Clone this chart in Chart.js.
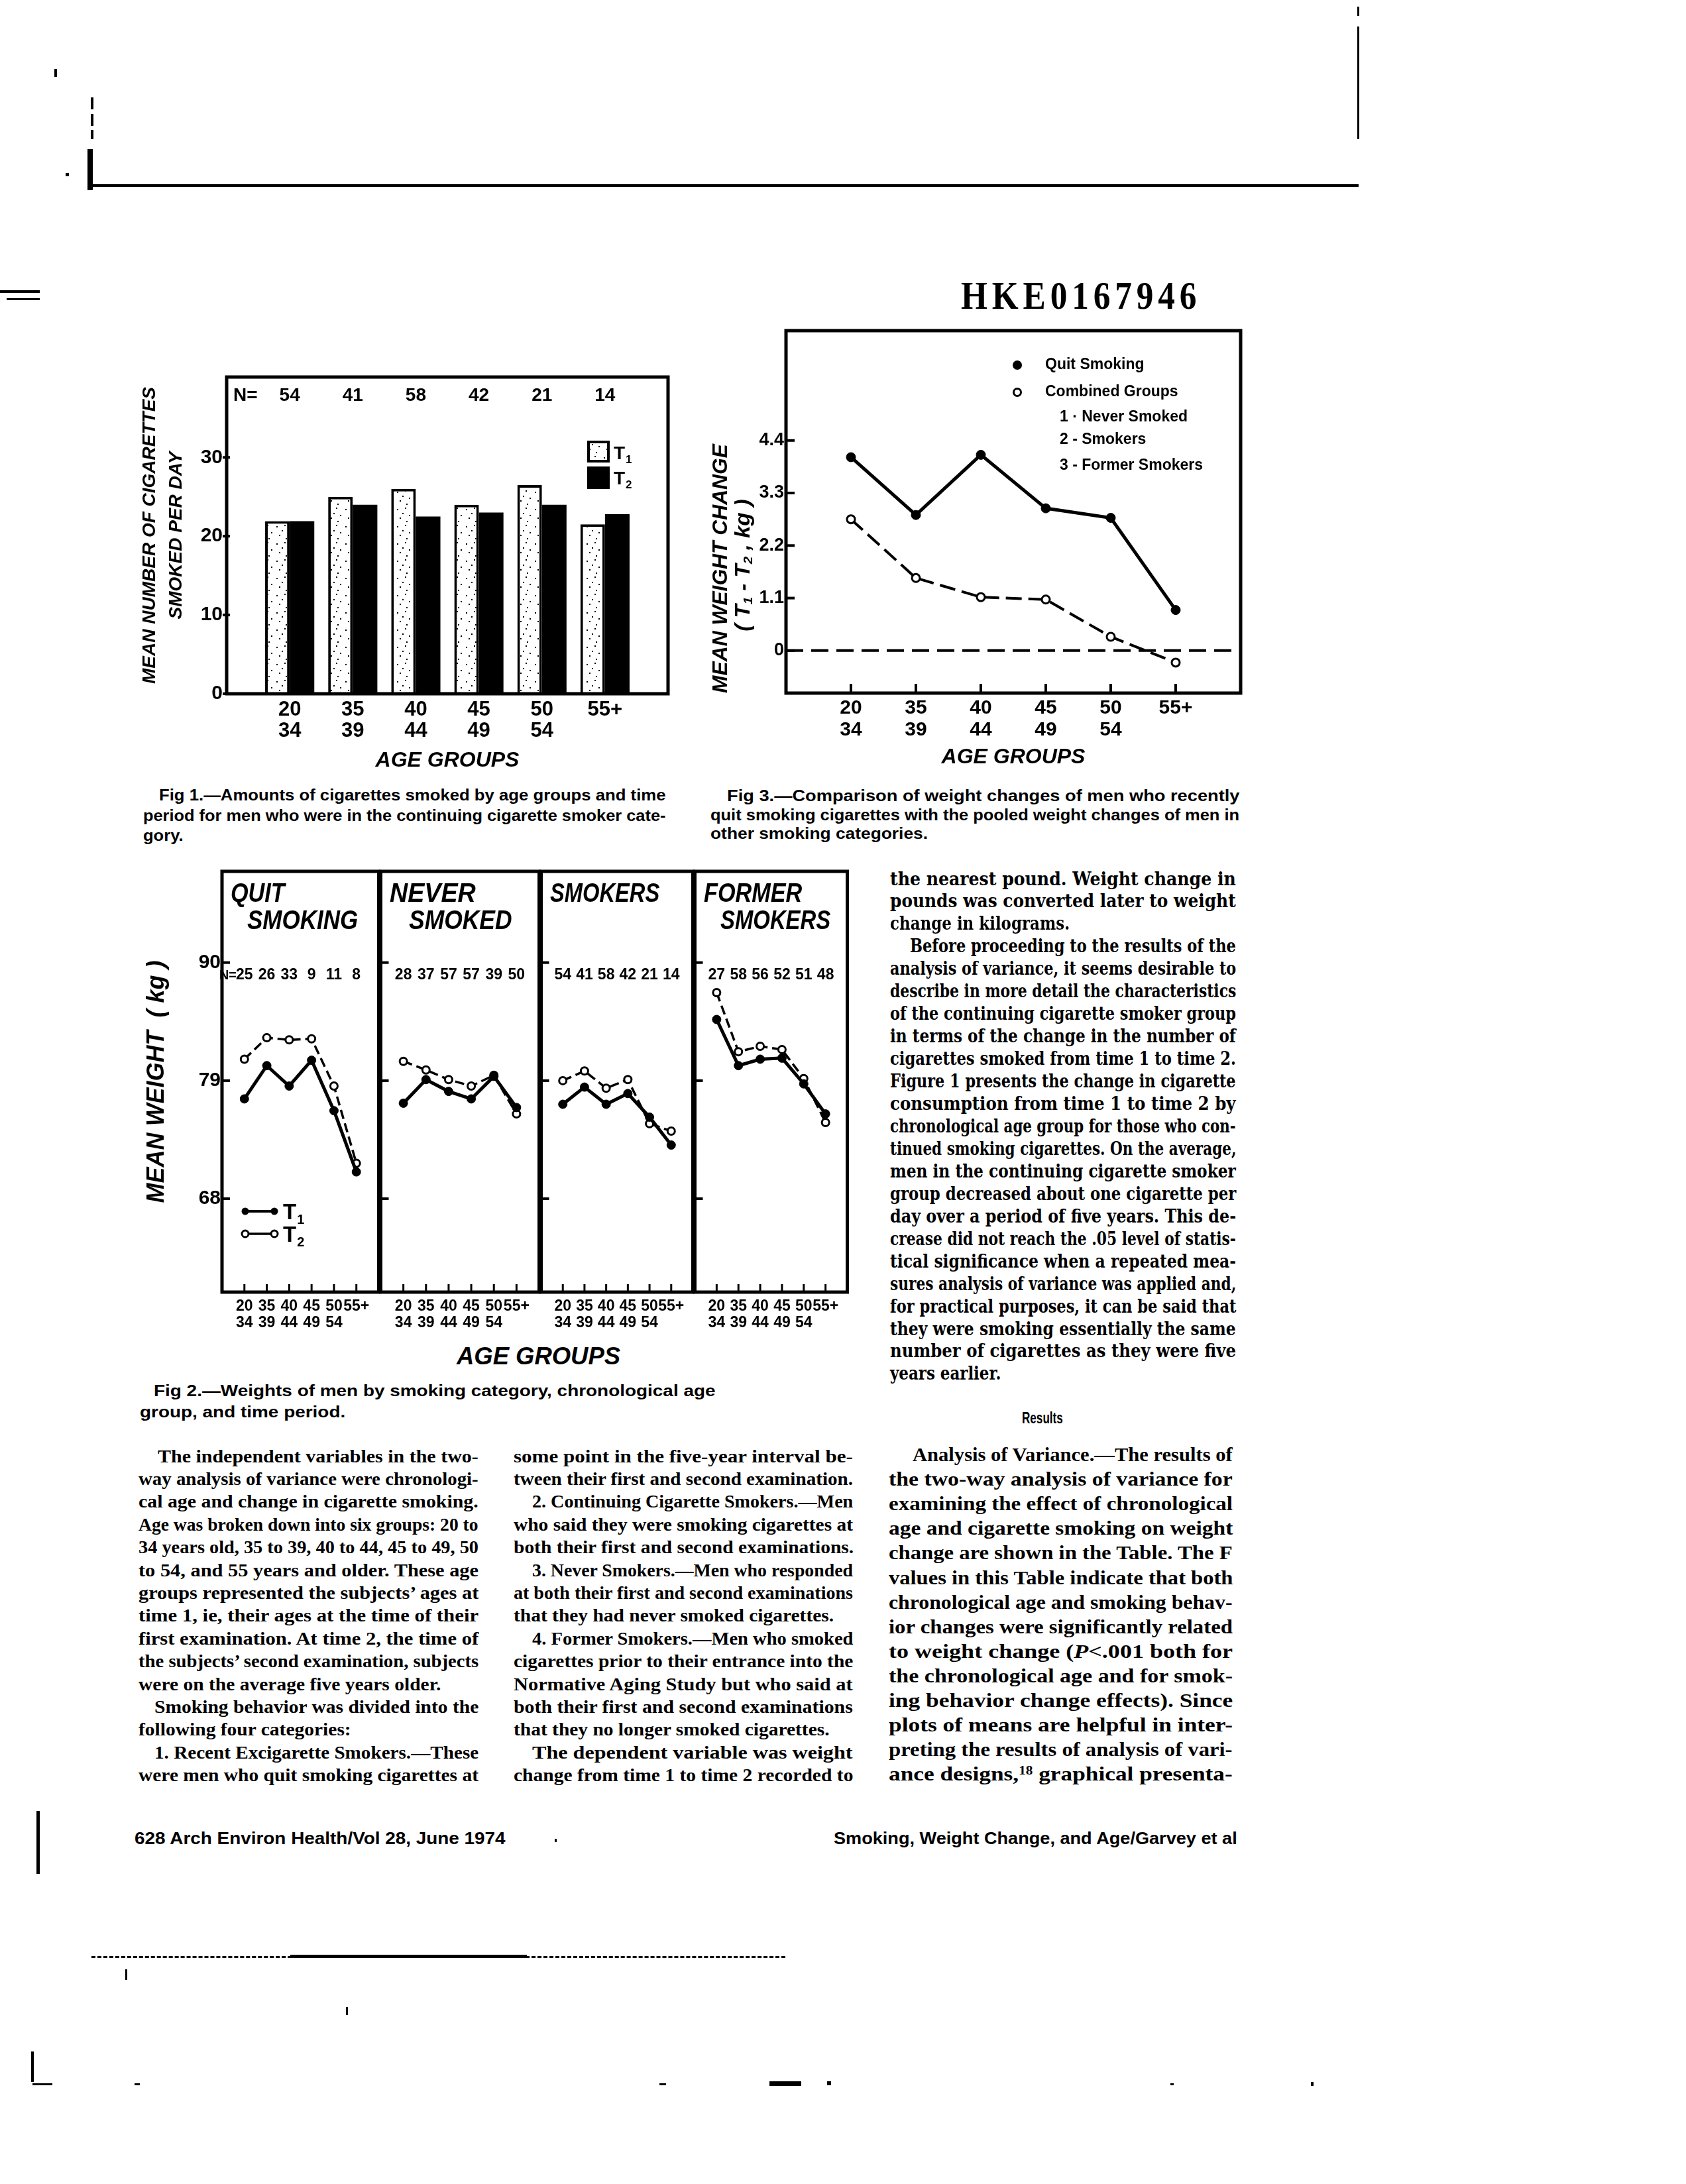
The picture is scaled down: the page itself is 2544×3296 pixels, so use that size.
<!DOCTYPE html>
<html><head><meta charset="utf-8">
<script src="https://cdn.jsdelivr.net/npm/chart.js@4.4.1/dist/chart.umd.min.js"></script>
<style>
html,body{margin:0;padding:0;background:#fff;}
#page{position:relative;width:2544px;height:3296px;background:#fff;overflow:hidden;}
canvas{position:absolute;}
.t{position:absolute;white-space:nowrap;color:#000;}
.t span{display:inline-block;transform-origin:0 50%;}
.t sub{font-size:62%;vertical-align:-0.25em;line-height:0;}
.t sup{font-size:60%;vertical-align:0.5em;line-height:0;}
.mk{position:absolute;background:#000;}
</style></head><body><div id="page"></div>
<script>
// ---------------- DATA ----------------
const ageGroups = ['20-34','35-39','40-44','45-49','50-54','55+'];
const ageTickLines = [['20','34'],['35','39'],['40','44'],['45','49'],['50','54'],['55+']];

// Fig 1: mean number of cigarettes smoked per day
const fig1T1 = [21.9, 25.0, 26.0, 24.0, 26.5, 21.5];
const fig1T2 = [21.9, 24.0, 22.5, 23.0, 24.0, 22.8];
const fig1N  = [54, 41, 58, 42, 21, 14];
const fig1YTicks = [0, 10, 20, 30];

// Fig 3: mean weight change (kg)
const fig3Quit     = [4.05, 2.84, 4.10, 2.98, 2.78, 0.85];
const fig3Combined = [2.75, 1.52, 1.12, 1.07, 0.29, -0.25];
const fig3YTicks = [0, 1.1, 2.2, 3.3, 4.4];

// Fig 2: mean weight (kg) by smoking category
const fig2YTicks = [68, 79, 90];
const quitT1    = [77.3, 80.4, 78.5, 80.9, 76.2, 70.5];
const quitT2    = [81.0, 83.0, 82.8, 82.9, 78.5, 71.3];
const quitN     = [25, 26, 33, 9, 11, 8];
const neverT1   = [76.9, 79.1, 78.0, 77.3, 79.4, 76.5];
const neverT2   = [80.8, 80.0, 79.1, 78.5, 79.5, 75.9];
const neverN    = [28, 37, 57, 57, 39, 50];
const smokersT1 = [76.8, 78.4, 76.8, 77.8, 75.6, 73.0];
const smokersT2 = [79.0, 79.9, 78.3, 79.1, 75.0, 74.3];
const smokersN  = [54, 41, 58, 42, 21, 14];
const formerT1  = [84.7, 80.4, 81.0, 81.1, 78.7, 75.9];
const formerT2  = [87.2, 81.7, 82.2, 81.9, 79.2, 75.1];
const formerN   = [27, 58, 56, 52, 51, 48];
const panelTitles = [['QUIT','SMOKING'],['NEVER','SMOKED'],['SMOKERS'],['FORMER','SMOKERS']];

// ---------------- HELPERS ----------------
const SANS = "'Liberation Sans', Arial, Helvetica, sans-serif";
const SERIF = "'Liberation Serif', 'Times New Roman', serif";
const SERIF2 = "'DejaVu Serif', 'Liberation Serif', serif";
const page = document.getElementById('page');
Chart.defaults.color = '#000';
Chart.defaults.font.family = SANS;

const pad = a => [null, ...a, null];
const xLabels = ['', ...ageTickLines, ''];
const catIdx = ageGroups.map((_, i) => i + 1);

function mkCanvas(L, T, W, H) {
  const c = document.createElement('canvas');
  c.width = W; c.height = H;
  c.style.left = L + 'px'; c.style.top = T + 'px';
  c.style.width = W + 'px'; c.style.height = H + 'px';
  page.appendChild(c);
  return c;
}
function txt(html, x, y, o) {
  const d = document.createElement('div'); d.className = 't';
  d.style.fontFamily = o.family; d.style.fontSize = o.size + 'px';
  d.style.fontWeight = o.weight || 'bold'; d.style.fontStyle = o.style || 'normal';
  d.style.lineHeight = o.size + 'px';
  if (o.ls) d.style.letterSpacing = o.ls + 'px';
  const s = document.createElement('span'); s.innerHTML = html; d.appendChild(s); page.appendChild(d);
  const w = s.offsetWidth;
  let k = o.scale || 1; if (o.width) k = o.width / w;
  s.style.transform = 'scaleX(' + k + ')';
  let left = x;
  if (o.align === 'center') left = x - w * k / 2;
  d.style.left = left + 'px'; d.style.top = (y - o.size * 0.5) + 'px';
  return k;
}
function vtxt(html, cx, cy, o) {
  const d = document.createElement('div'); d.className = 't';
  d.style.fontFamily = o.family; d.style.fontSize = o.size + 'px';
  d.style.fontWeight = o.weight || 'bold'; d.style.fontStyle = o.style || 'normal';
  d.style.lineHeight = o.size + 'px';
  d.innerHTML = html; page.appendChild(d);
  d.style.left = cx + 'px'; d.style.top = cy + 'px';
  let k = 1; if (o.length) k = o.length / d.offsetWidth;
  d.style.transform = 'translate(-50%,-50%) rotate(-90deg) scaleX(' + k + ')';
}
function block(b) {
  const ks = [], later = [];
  b.lines.forEach((ln, i) => {
    const [t, full, ind] = ln;
    const x = b.x + (ind || 0), y = b.y + i * b.dy;
    if (full) ks.push(txt(t, x, y, Object.assign({}, b.font, {width: b.right - x})));
    else later.push([t, x, y]);
  });
  const avg = ks.reduce((a, c) => a + c, 0) / Math.max(ks.length, 1);
  later.forEach(([t, x, y]) => txt(t, x, y, Object.assign({}, b.font, {scale: avg})));
}
function mark(x, y, w, h) {
  const d = document.createElement('div'); d.className = 'mk';
  d.style.left = x + 'px'; d.style.top = y + 'px'; d.style.width = w + 'px'; d.style.height = h + 'px';
  page.appendChild(d);
}
function framePlugin(lw) {
  return {id: 'frame', afterDatasetsDraw(chart) {
    const {ctx, chartArea: a} = chart;
    ctx.save(); ctx.lineWidth = lw; ctx.strokeStyle = '#000';
    ctx.strokeRect(a.left, a.top, a.right - a.left, a.bottom - a.top); ctx.restore();
  }};
}
function tickPlugin(specs) {
  return {id: 'tickmarks', afterDatasetsDraw(chart) {
    const {ctx, chartArea: a} = chart;
    ctx.save(); ctx.strokeStyle = '#000';
    specs.forEach(m => {
      const s = chart.scales[m.axis]; ctx.lineWidth = m.lw;
      m.values.forEach(v => {
        const p = s.getPixelForValue(v);
        ctx.beginPath();
        if (m.axis === 'y') { ctx.moveTo(a.left - m.out, p); ctx.lineTo(a.left + m.inn, p); }
        else { ctx.moveTo(p, a.bottom + m.out); ctx.lineTo(p, a.bottom - m.inn); }
        ctx.stroke();
      });
    });
    ctx.restore();
  }};
}
function drawTsub(ctx, x, y, sub, size) {
  ctx.textAlign = 'left'; ctx.textBaseline = 'alphabetic';
  ctx.font = 'bold ' + size + 'px ' + SANS; ctx.fillText('T', x, y);
  const w = ctx.measureText('T').width;
  ctx.font = 'bold ' + Math.round(size * 0.6) + 'px ' + SANS; ctx.fillText(sub, x + w + 1, y + size * 0.22);
}
function makeStipple() {
  const c = document.createElement('canvas'); c.width = 26; c.height = 26;
  const x = c.getContext('2d'); x.fillStyle = '#fff'; x.fillRect(0, 0, 26, 26); x.fillStyle = '#000';
  [[3,4],[15,2],[21,13],[7,17],[17,22],[11,10]].forEach(([a, b]) => x.fillRect(a, b, 2, 2));
  return x.createPattern(c, 'repeat');
}
const stipple = makeStipple();
const baseOpts = {responsive: false, animation: false, devicePixelRatio: 1, events: [],
  plugins: {legend: {display: false}, tooltip: {enabled: false}}};
const noGrid = {display: false, drawTicks: false};

// ---------------- FIG 1 ----------------
(function () {
  const L = 180, T = 530, W = 860, H = 650, A = {l: 342, t: 569, r: 1008, b: 1047};
  const cv = mkCanvas(L, T, W, H);
  new Chart(cv, {
    type: 'bar',
    data: {labels: xLabels, datasets: [
      {label: 'T1', data: pad(fig1T1), backgroundColor: stipple, borderColor: '#000', borderWidth: 4,
       categoryPercentage: 0.78, barPercentage: 1.0},
      {label: 'T2', data: pad(fig1T2), backgroundColor: '#000', borderColor: '#000', borderWidth: 0,
       categoryPercentage: 0.78, barPercentage: 1.0}
    ]},
    options: Object.assign({}, baseOpts, {
      layout: {padding: {top: A.t - T, right: L + W - A.r, left: 0, bottom: 0}},
      scales: {
        x: {offset: false, grid: noGrid, border: {display: false},
            ticks: {autoSkip: false, maxRotation: 0, minRotation: 0, color: '#000', padding: 8,
                    font: {family: SANS, size: 31, weight: 'bold', lineHeight: 32 / 31}},
            title: {display: true, text: 'AGE GROUPS', color: '#000', padding: {top: 0, bottom: 12},
                    font: {family: SANS, size: 32, style: 'italic', weight: 'bold', lineHeight: 1.25}},
            afterFit(s) { s.height = T + H - A.b; }},
        y: {min: 0, max: 40.2, grid: noGrid, border: {display: false},
            afterBuildTicks(s) { s.ticks = fig1YTicks.map(v => ({value: v})); },
            ticks: {color: '#000', padding: 6, font: {family: SANS, size: 30, weight: 'bold'}},
            title: {display: true, text: ['MEAN NUMBER OF CIGARETTES', 'SMOKED PER DAY'], color: '#000',
                    padding: {top: 26, bottom: 0},
                    font: {family: SANS, size: 28, style: 'italic', weight: 'bold', lineHeight: 40 / 28}},
            afterFit(s) { s.width = A.l - L; }}
      }
    }),
    plugins: [framePlugin(5), tickPlugin([{axis: 'y', values: fig1YTicks, out: 6, inn: 5, lw: 4}]),
      {id: 'fig1notes', afterDatasetsDraw(chart) {
        const ctx = chart.ctx, xs = chart.scales.x;
        ctx.save(); ctx.fillStyle = '#000';
        ctx.font = 'bold 28px ' + SANS; ctx.textAlign = 'center'; ctx.textBaseline = 'middle';
        fig1N.forEach((n, i) => ctx.fillText(String(n), xs.getPixelForValue(i + 1), 597 - T));
        ctx.textAlign = 'left'; ctx.fillText('N=', 352 - L, 597 - T);
        ctx.fillStyle = stipple; ctx.fillRect(886 - L, 665 - T, 34, 33);
        ctx.lineWidth = 4; ctx.strokeStyle = '#000'; ctx.strokeRect(888 - L, 667 - T, 30, 29);
        ctx.fillStyle = '#000'; ctx.fillRect(886 - L, 704 - T, 34, 34);
        drawTsub(ctx, 926 - L, 693 - T, '1', 28);
        drawTsub(ctx, 926 - L, 731 - T, '2', 28);
        ctx.restore();
      }}]
  });
})();

// ---------------- FIG 3 ----------------
(function () {
  const L = 1100, T = 460, W = 800, H = 720, A = {l: 1186, t: 499, r: 1872, b: 1046};
  const cv = mkCanvas(L, T, W, H);
  new Chart(cv, {
    type: 'line',
    data: {labels: xLabels, datasets: [
      {label: 'Quit Smoking', data: pad(fig3Quit), borderColor: '#000', borderWidth: 5, tension: 0,
       pointRadius: 7, pointBackgroundColor: '#000', pointBorderColor: '#000', pointBorderWidth: 1},
      {label: 'Combined Groups', data: pad(fig3Combined), borderColor: '#000', borderWidth: 4, tension: 0,
       borderDash: [24, 10], pointRadius: 6, pointBackgroundColor: '#fff', pointBorderColor: '#000', pointBorderWidth: 3},
      {label: 'zero', data: xLabels.map(() => fig3YTicks[0]), borderColor: '#000', borderWidth: 4,
       borderDash: [26, 12], pointRadius: 0}
    ]},
    options: Object.assign({}, baseOpts, {
      layout: {padding: {top: A.t - T, right: L + W - A.r, left: 0, bottom: 0}},
      scales: {
        x: {offset: false, grid: noGrid, border: {display: false},
            ticks: {autoSkip: false, maxRotation: 0, minRotation: 0, color: '#000', padding: 6.5,
                    font: {family: SANS, size: 30, weight: 'bold', lineHeight: 33 / 30}},
            title: {display: true, text: 'AGE GROUPS', color: '#000', padding: {top: 0, bottom: 17},
                    font: {family: SANS, size: 32, style: 'italic', weight: 'bold', lineHeight: 1.25}},
            afterFit(s) { s.height = T + H - A.b; }},
        y: {min: -0.89, max: 6.70, grid: noGrid, border: {display: false},
            afterBuildTicks(s) { s.ticks = fig3YTicks.map(v => ({value: v})); },
            ticks: {color: '#000', padding: 3, font: {family: SANS, size: 27, weight: 'bold'},
                    callback: v => (v === 0 ? '0' : Number(v).toFixed(1))},
            afterFit(s) { s.width = A.l - L; }}
      }
    }),
    plugins: [framePlugin(5),
      tickPlugin([{axis: 'y', values: fig3YTicks, out: 2, inn: 13, lw: 4},
                  {axis: 'x', values: catIdx, out: 0, inn: 14, lw: 4}]),
      {id: 'fig3legend', afterDatasetsDraw(chart) {
        const ctx = chart.ctx; ctx.save(); ctx.fillStyle = '#000'; ctx.strokeStyle = '#000';
        ctx.beginPath(); ctx.arc(1535 - L, 551 - T, 7, 0, Math.PI * 2); ctx.fill();
        ctx.lineWidth = 3; ctx.beginPath(); ctx.arc(1535 - L, 592 - T, 5.5, 0, Math.PI * 2); ctx.stroke();
        ctx.font = 'bold 23px ' + SANS; ctx.textAlign = 'left'; ctx.textBaseline = 'middle';
        ctx.fillText('Quit Smoking', 1577 - L, 551 - T);
        ctx.fillText('Combined Groups', 1577 - L, 592 - T);
        ctx.fillText('1 \u00b7 Never Smoked', 1599 - L, 630 - T);
        ctx.fillText('2 - Smokers', 1599 - L, 664 - T);
        ctx.fillText('3 - Former Smokers', 1599 - L, 703 - T);
        ctx.restore();
      }}]
  });
})();
vtxt('MEAN WEIGHT CHANGE', 1086, 858, {family: SANS, size: 31, style: 'italic', length: 376});
vtxt('( T<sub>1</sub> - T<sub>2</sub> , kg )', 1120, 853, {family: SANS, size: 31, style: 'italic', length: 200});

// ---------------- FIG 2 ----------------
const fig2Edges = [335, 573, 815, 1047, 1280];
const fig2Series = [[quitT1, quitT2, quitN], [neverT1, neverT2, neverN],
                    [smokersT1, smokersT2, smokersN], [formerT1, formerT2, formerN]];
fig2Series.forEach(([t1, t2, nArr], i) => {
  const left = fig2Edges[i], right = fig2Edges[i + 1], first = i === 0;
  const T = 1275, H = 740, L = first ? 200 : left - 8, W = right + 8 - L;
  const cv = mkCanvas(L, T, W, H);
  new Chart(cv, {
    type: 'line',
    data: {labels: xLabels, datasets: [
      {label: 'T1', data: pad(t1), borderColor: '#000', borderWidth: 5, tension: 0,
       pointRadius: 6.5, pointBackgroundColor: '#000', pointBorderColor: '#000', pointBorderWidth: 1},
      {label: 'T2', data: pad(t2), borderColor: '#000', borderWidth: 3.5, borderDash: [14, 7], tension: 0,
       pointRadius: 5.5, pointBackgroundColor: '#fff', pointBorderColor: '#000', pointBorderWidth: 3}
    ]},
    options: Object.assign({}, baseOpts, {
      layout: {padding: {top: 1315 - T, left: first ? 0 : 8, right: 8, bottom: 0}},
      scales: {
        x: {offset: false, grid: noGrid, border: {display: false},
            ticks: {autoSkip: false, maxRotation: 0, minRotation: 0, color: '#000', padding: 9.5,
                    font: {family: SANS, size: 23, weight: 'bold', lineHeight: 25 / 23}},
            afterFit(s) { s.height = T + H - 1950; }},
        y: {display: first, min: 59.3, max: 98.5, grid: noGrid, border: {display: false},
            afterBuildTicks(s) { s.ticks = fig2YTicks.map(v => ({value: v})); },
            ticks: {color: '#000', padding: 2, font: {family: SANS, size: 30, weight: 'bold'}},
            title: {display: first, text: 'MEAN WEIGHT  ( kg )', color: '#000', padding: {top: 15, bottom: 0},
                    font: {family: SANS, size: 36, style: 'italic', weight: 'bold', lineHeight: 1.2}},
            afterFit(s) { s.width = first ? left - L : 0; }}
      }
    }),
    plugins: [framePlugin(5),
      tickPlugin([{axis: 'y', values: fig2YTicks, out: first ? 2 : 0, inn: 12, lw: 4},
                  {axis: 'x', values: catIdx, out: 0, inn: 12, lw: 3}]),
      {id: 'fig2notes', afterDatasetsDraw(chart) {
        const ctx = chart.ctx, xs = chart.scales.x; ctx.save(); ctx.fillStyle = '#000';
        ctx.font = 'bold 23px ' + SANS; ctx.textAlign = 'center'; ctx.textBaseline = 'middle';
        nArr.forEach((n, j) => ctx.fillText(String(n), xs.getPixelForValue(j + 1), 1472 - T));
        if (first) {
          ctx.textAlign = 'right'; ctx.font = 'bold 20px ' + SANS; ctx.fillText('N=', 357 - L, 1472 - T);
          ctx.strokeStyle = '#000';
          ctx.lineWidth = 4; ctx.beginPath(); ctx.moveTo(370 - L, 1828 - T); ctx.lineTo(414 - L, 1828 - T); ctx.stroke();
          [370, 414].forEach(x => { ctx.beginPath(); ctx.arc(x - L, 1828 - T, 5.5, 0, Math.PI * 2); ctx.fill(); });
          ctx.lineWidth = 3.5; ctx.beginPath(); ctx.moveTo(372 - L, 1862 - T); ctx.lineTo(412 - L, 1862 - T); ctx.stroke();
          ctx.lineWidth = 3;
          [370, 414].forEach(x => { ctx.fillStyle = '#fff'; ctx.beginPath(); ctx.arc(x - L, 1862 - T, 5, 0, Math.PI * 2); ctx.fill(); ctx.stroke(); });
          ctx.fillStyle = '#000';
          drawTsub(ctx, 427 - L, 1840 - T, '1', 33);
          drawTsub(ctx, 427 - L, 1874 - T, '2', 33);
        }
        ctx.restore();
      }}]
  });
});
// panel titles
const ptPos = [[[348, 1347, 82], [373, 1388, 167]], [[588, 1347, 130], [617, 1388, 156]],
               [[830, 1347, 165]], [[1062, 1347, 148], [1087, 1388, 166]]];
panelTitles.forEach((lines, i) => lines.forEach((t, j) => {
  const [x, y, w] = ptPos[i][j];
  txt(t, x, y, {family: SANS, size: 40, style: 'italic', width: w});
}));
txt('AGE GROUPS', 812, 2047, {family: SANS, size: 36, style: 'italic', width: 247, align: 'center'});

// ---------------- CAPTIONS & TEXT ----------------
const capFont = {family: SANS, size: 24};
block({x: 216, right: 1004, y: 1200, dy: 30.5, font: capFont, lines: [
  ['Fig 1.\u2014Amounts of cigarettes smoked by age groups and time', true, 24],
  ['period for men who were in the continuing cigarette smoker cate-', true],
  ['gory.', false]]});
block({x: 1072, right: 1870, y: 1201, dy: 28.5, font: capFont, lines: [
  ['Fig 3.\u2014Comparison of weight changes of men who recently', true, 25],
  ['quit smoking cigarettes with the pooled weight changes of men in', true],
  ['other smoking categories.', false]]});
block({x: 211, right: 1080, y: 2099, dy: 32, font: capFont, lines: [
  ['Fig 2.\u2014Weights of men by smoking category, chronological age', true, 21],
  ['group, and time period.', false]]});

block({x: 1343, right: 1865, y: 1326, dy: 33.95, font: {family: SERIF2, size: 27}, lines: [
  ['the nearest pound. Weight change in', true],
  ['pounds was converted later to weight', true],
  ['change in kilograms.', false],
  ['Before proceeding to the results of the', true, 30],
  ['analysis of variance, it seems desirable to', true],
  ['describe in more detail the characteristics', true],
  ['of the continuing cigarette smoker group', true],
  ['in terms of the change in the number of', true],
  ['cigarettes smoked from time 1 to time 2.', true],
  ['Figure 1 presents the change in cigarette', true],
  ['consumption from time 1 to time 2 by', true],
  ['chronological age group for those who con-', true],
  ['tinued smoking cigarettes. On the average,', true],
  ['men in the continuing cigarette smoker', true],
  ['group decreased about one cigarette per', true],
  ['day over a period of five years. This de-', true],
  ['crease did not reach the .05 level of statis-', true],
  ['tical significance when a repeated mea-', true],
  ['sures analysis of variance was applied and,', true],
  ['for practical purposes, it can be said that', true],
  ['they were smoking essentially the same', true],
  ['number of cigarettes as they were five', true],
  ['years earlier.', false]]});

const bodyFont = {family: SERIF, size: 27};
block({x: 209, right: 722, y: 2198, dy: 34.4, font: bodyFont, lines: [
  ['The independent variables in the two-', true, 29],
  ['way analysis of variance were chronologi-', true],
  ['cal age and change in cigarette smoking.', true],
  ['Age was broken down into six groups: 20 to', true],
  ['34 years old, 35 to 39, 40 to 44, 45 to 49, 50', true],
  ['to 54, and 55 years and older. These age', true],
  ['groups represented the subjects\u2019 ages at', true],
  ['time 1, ie, their ages at the time of their', true],
  ['first examination. At time 2, the time of', true],
  ['the subjects\u2019 second examination, subjects', true],
  ['were on the average five years older.', false],
  ['Smoking behavior was divided into the', true, 24],
  ['following four categories:', false],
  ['1. Recent Excigarette Smokers.\u2014These', true, 24],
  ['were men who quit smoking cigarettes at', true]]});
block({x: 775, right: 1287, y: 2198, dy: 34.4, font: bodyFont, lines: [
  ['some point in the five-year interval be-', true],
  ['tween their first and second examination.', true],
  ['2. Continuing Cigarette Smokers.\u2014Men', true, 28],
  ['who said they were smoking cigarettes at', true],
  ['both their first and second examinations.', false],
  ['3. Never Smokers.\u2014Men who responded', true, 28],
  ['at both their first and second examinations', true],
  ['that they had never smoked cigarettes.', false],
  ['4. Former Smokers.\u2014Men who smoked', true, 28],
  ['cigarettes prior to their entrance into the', true],
  ['Normative Aging Study but who said at', true],
  ['both their first and second examinations', true],
  ['that they no longer smoked cigarettes.', false],
  ['The dependent variable was weight', true, 28],
  ['change from time 1 to time 2 recorded to', true]]});
txt('Results', 1573, 2140, {family: SANS, size: 24, width: 62, align: 'center'});
block({x: 1341, right: 1860, y: 2195, dy: 37.1, font: {family: SERIF, size: 30}, lines: [
  ['Analysis of Variance.\u2014The results of', true, 36],
  ['the two-way analysis of variance for', true],
  ['examining the effect of chronological', true],
  ['age and cigarette smoking on weight', true],
  ['change are shown in the Table. The F', true],
  ['values in this Table indicate that both', true],
  ['chronological age and smoking behav-', true],
  ['ior changes were significantly related', true],
  ['to weight change (<i>P</i>&lt;.001 both for', true],
  ['the chronological age and for smok-', true],
  ['ing behavior change effects). Since', true],
  ['plots of means are helpful in inter-', true],
  ['preting the results of analysis of vari-', true],
  ['ance designs,<sup>18</sup> graphical presenta-', true]]});

txt('628 Arch Environ Health/Vol 28, June 1974', 203, 2774, {family: SANS, size: 26, width: 560});
txt('Smoking, Weight Change, and Age/Garvey et al', 1258, 2774, {family: SANS, size: 26, width: 609});
txt('HKE0167946', 1450, 446, {family: SERIF, size: 60, weight: 'bold', width: 362, ls: 8});

// ---------------- SCAN MARKS ----------------
[[82,104,4,12],[137,147,4,18],[137,172,4,18],[137,196,4,14],[99,261,5,5],[132,225,8,62],
 [139,278,1911,4],[2048,40,3,170],[2048,10,3,14],[0,438,60,4],[10,450,50,3],
 [55,2733,5,95],[438,2950,357,5],[189,2972,3,16],[522,3029,3,12],[47,3096,4,46],
 [49,3144,30,3],[203,3144,8,3],[995,3144,10,3],[1161,3141,48,7],[1248,3141,6,6],
 [1766,3144,5,3],[1978,3142,4,6],[837,2775,3,5]].forEach(m => mark(...m));
(function () { const d = document.createElement('div'); d.style.cssText =
  'position:absolute;left:138px;top:2952px;width:1047px;height:0;border-top:3px dashed #000;';
  page.appendChild(d); })();
</script></body></html>
